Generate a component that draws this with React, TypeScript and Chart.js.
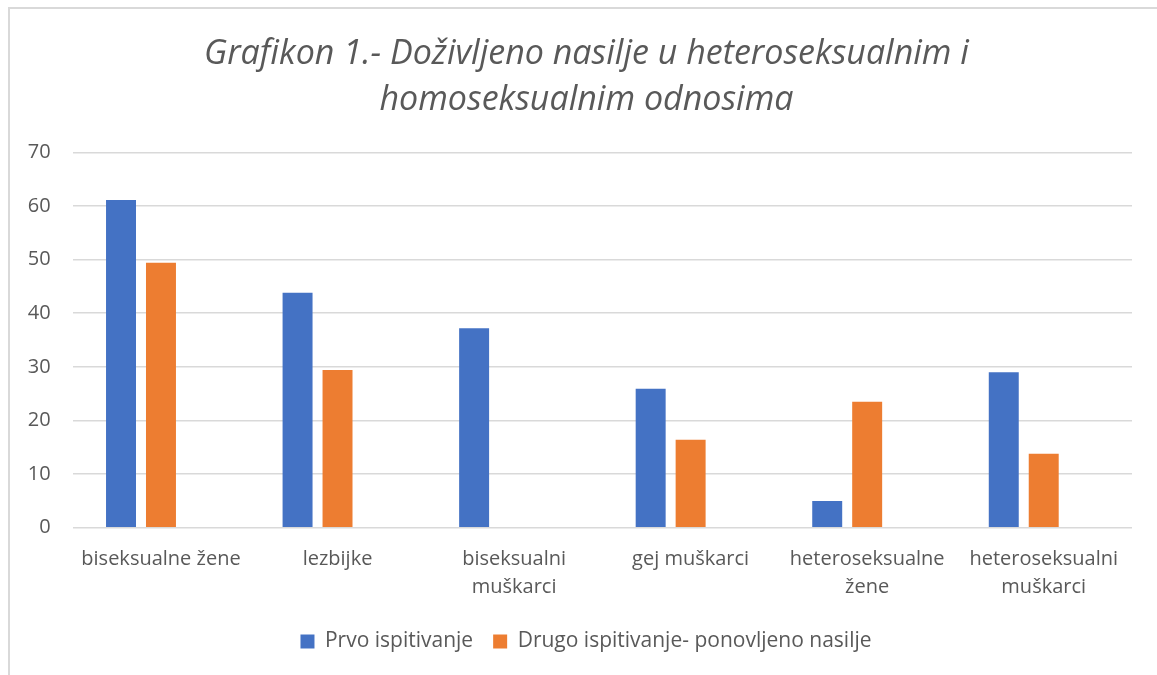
import React, { useEffect, useRef } from "react";
import { Chart, registerables } from "chart.js";

Chart.register(...registerables);

const categories: (string | string[])[] = [
  "biseksualne žene",
  "lezbijke",
  ["biseksualni", "muškarci"],
  "gej muškarci",
  ["heteroseksualne", "žene"],
  ["heteroseksualni", "muškarci"],
];

const prvoIspitivanje = [61.1, 43.8, 37.2, 25.9, 5.0, 29.0];
const drugoIspitivanje: (number | null)[] = [49.4, 29.4, null, 16.4, 23.5, 13.8];
const emptySeries: (number | null)[] = [null, null, null, null, null, null];

const titleLines = [
  "Grafikon 1.- Doživljeno nasilje u heteroseksualnim i",
  "homoseksualnim odnosima",
];

const FONT = "'Open Sans', 'Noto Sans', sans-serif";
const TEXT = "#595959";

const borderPlugin = {
  id: "frameBorder",
  afterLayout(chart: any) {
    // centre title and legend on the whole frame rather than the padded box
    if (chart.titleBlock) {
      chart.titleBlock.left += 15.5;
      chart.titleBlock.right += 15.5;
    }
    if (chart.legend) {
      chart.legend.left += 15;
      chart.legend.right += 15;
    }
  },
  beforeDraw(chart: any) {
    const ctx = chart.ctx;
    ctx.save();
    ctx.fillStyle = "#ffffff";
    ctx.fillRect(0, 0, chart.width, chart.height);
    ctx.strokeStyle = "#d9d9d9";
    ctx.lineWidth = 2;
    ctx.beginPath();
    ctx.moveTo(9, chart.height + 5);
    ctx.lineTo(9, 8);
    ctx.lineTo(chart.width + 5, 8);
    ctx.stroke();
    ctx.restore();
  },
};

export default function App() {
  const ref = useRef<HTMLCanvasElement | null>(null);

  useEffect(() => {
    if (!ref.current) return;
    const chart = new Chart(ref.current, {
      type: "bar",
      data: {
        labels: categories as any,
        datasets: [
          {
            label: "Prvo ispitivanje",
            data: prvoIspitivanje,
            backgroundColor: "#4472C4",
            categoryPercentage: 0.679,
            barPercentage: 0.75,
          },
          {
            label: "Drugo ispitivanje- ponovljeno nasilje",
            data: drugoIspitivanje,
            backgroundColor: "#ED7D31",
            categoryPercentage: 0.679,
            barPercentage: 0.75,
          },
          {
            label: "",
            data: emptySeries,
            backgroundColor: "#A5A5A5",
            categoryPercentage: 0.679,
            barPercentage: 0.75,
          },
        ],
      },
      options: {
        responsive: true,
        maintainAspectRatio: false,
        animation: false,
        layout: { padding: { left: 10, right: 25, top: 18, bottom: 13 } },
        plugins: {
          tooltip: { enabled: false },
          title: {
            display: true,
            text: titleLines,
            color: TEXT,
            font: { family: FONT, size: 34, style: "italic", weight: "normal", lineHeight: 1.35 },
            padding: { top: 13, bottom: 29.5 },
          },
          legend: {
            position: "bottom",
            labels: {
              filter: (item: any) => item.text !== "",
              color: TEXT,
              font: { family: FONT, size: 21 },
              boxWidth: 14,
              boxHeight: 14,
              padding: 20,
            },
          },
        },
        scales: {
          x: {
            grid: { display: false, drawTicks: false },
            border: { display: false },
            ticks: {
              color: TEXT,
              font: { family: FONT, size: 20, lineHeight: 1.4 },
              padding: 18,
              maxRotation: 0,
              autoSkip: false,
            },
            afterFit: (scale: any) => {
              scale.height = 83.3;
            },
          },
          y: {
            min: 0,
            max: 70,
            border: { display: false },
            grid: { color: "#d9d9d9", lineWidth: 1.5, drawTicks: false },
            ticks: {
              stepSize: 10,
              color: TEXT,
              font: { family: FONT, size: 20 },
              padding: 22,
            },
            afterFit: (scale: any) => {
              scale.width = 62.7;
            },
          },
        },
      },
      plugins: [borderPlugin],
    });
    return () => chart.destroy();
  }, []);

  return (
    <div style={{ position: "fixed", left: 0, top: 0, width: 1157, height: 675, background: "#fff" }}>
      <canvas ref={ref} />
    </div>
  );
}
